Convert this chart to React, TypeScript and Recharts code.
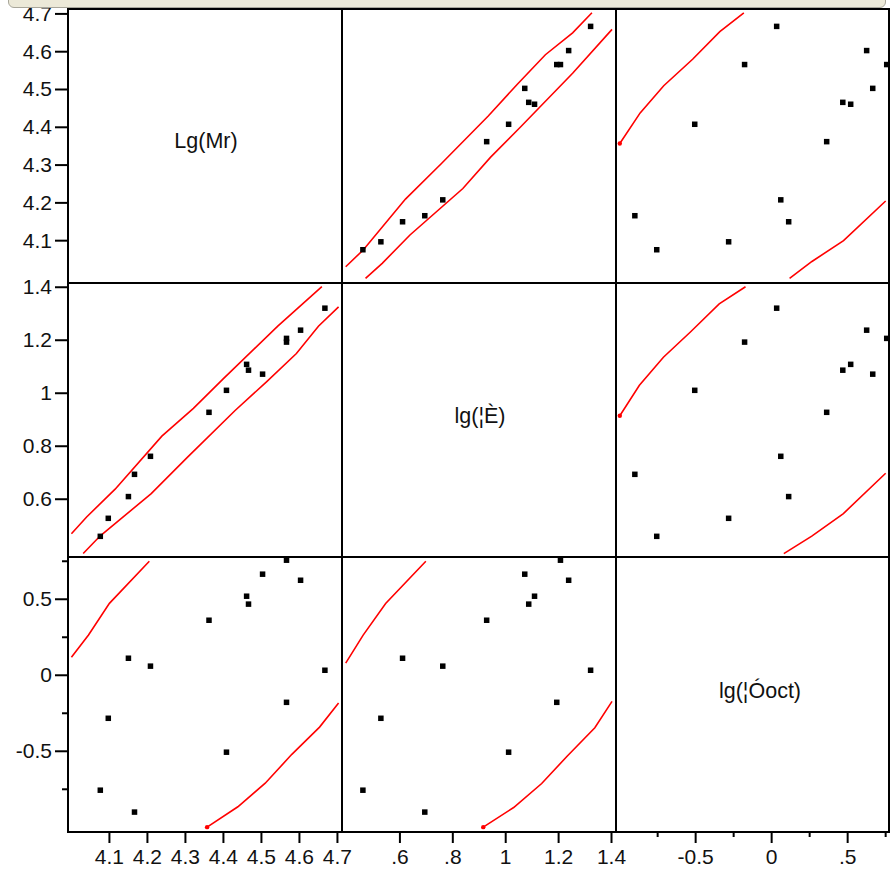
import { ScatterChart, Scatter, XAxis, YAxis } from 'recharts'

// 14 compounds, one value per variable
const LG_MR = [4.076, 4.097, 4.15, 4.166, 4.208, 4.362, 4.408, 4.461, 4.466, 4.503, 4.566, 4.566, 4.603, 4.667]
const LG_E = [0.46, 0.528, 0.61, 0.694, 0.762, 0.928, 1.011, 1.109, 1.087, 1.072, 1.207, 1.193, 1.238, 1.321]
const LG_OCT = [-0.756, -0.283, 0.112, -0.9, 0.06, 0.362, -0.506, 0.52, 0.468, 0.665, 0.757, -0.178, 0.625, 0.033]

const MR_TICKS = [4.1, 4.2, 4.3, 4.4, 4.5, 4.6, 4.7]
const MR_LABELS = ['4.1', '4.2', '4.3', '4.4', '4.5', '4.6', '4.7']
const E_TICKS = [0.6, 0.8, 1, 1.2, 1.4]
const E_X_LABELS = ['.6', '.8', '1', '1.2', '1.4']
const E_Y_LABELS = ['0.6', '0.8', '1', '1.2', '1.4']
const OCT_TICKS = [-0.75, -0.5, -0.25, 0, 0.25, 0.5, 0.75]
const OCT_X_LABELS = ['', '-0.5', '', '0', '', '.5', '']
const OCT_Y_LABELS = ['', '-0.5', '', '0', '', '0.5', '']

// visible pieces of the 95% density ellipses, as (first var, second var)
const MR_E_ARC1 = [[4.0, 0.47], [4.04, 0.533], [4.115, 0.638], [4.238, 0.838], [4.321, 0.943], [4.4, 1.055], [4.543, 1.253], [4.659, 1.402]]
const MR_E_ARC2 = [[4.031, 0.395], [4.076, 0.462], [4.21, 0.621], [4.305, 0.758], [4.43, 0.934], [4.514, 1.044], [4.592, 1.15], [4.65, 1.253], [4.703, 1.326]]
const MR_OCT_ARC1 = [[4.0, 0.118], [4.045, 0.265], [4.1, 0.473], [4.205, 0.75]]
const MR_OCT_ARC2 = [[4.357, -0.999], [4.438, -0.865], [4.51, -0.71], [4.58, -0.52], [4.653, -0.341], [4.703, -0.183]]
const E_OCT_ARC1 = [[0.395, 0.08], [0.461, 0.264], [0.546, 0.472], [0.698, 0.75]]
const E_OCT_ARC2 = [[0.915, -0.999], [1.03, -0.87], [1.136, -0.712], [1.233, -0.531], [1.337, -0.345], [1.402, -0.172]]

const VARS = [
  { name: 'Lg(Mr)', values: LG_MR, xDomain: [3.991, 4.712], yDomain: [3.988, 4.713], ticks: MR_TICKS, xLabels: MR_LABELS, yLabels: MR_LABELS },
  { name: 'lg(¦È)', values: LG_E, xDomain: [0.381, 1.417], yDomain: [0.382, 1.416], ticks: E_TICKS, xLabels: E_X_LABELS, yLabels: E_Y_LABELS },
  { name: 'lg(¦Óoct)', values: LG_OCT, xDomain: [-1.024, 0.772], yDomain: [-1.031, 0.778], ticks: OCT_TICKS, xLabels: OCT_X_LABELS, yLabels: OCT_Y_LABELS },
]

// arcs per variable pair; the flag marks arcs whose first vertex gets a dot
const ARCS: Record<string, [number[][], boolean][]> = {
  '0-1': [[MR_E_ARC1, false], [MR_E_ARC2, false]],
  '0-2': [[MR_OCT_ARC1, false], [MR_OCT_ARC2, true]],
  '1-2': [[E_OCT_ARC1, false], [E_OCT_ARC2, true]],
}

const COL_X = [68, 342, 616]
const COL_W = [274, 274, 273]
const ROW_Y = [9, 283, 557]
const ROW_H = [274, 274, 275]
const YAXIS_W = 68
const XAXIS_H = 40
const FONT = '"Liberation Sans", Arial, sans-serif'

function labelFor(ticks: number[], labels: string[], v: number) {
  const i = ticks.findIndex((t) => Math.abs(t - v) < 1e-9)
  return i < 0 ? '' : labels[i]
}

function XTick(props: any) {
  const { x, y, payload, ticks, labels } = props
  const label = labelFor(ticks, labels, payload.value)
  const major = label !== ''
  return (
    <g>
      <line x1={x} x2={x} y1={y} y2={y + (major ? 11 : 5)} stroke="#000" strokeWidth={2} />
      {major && (
        <text x={x} y={y + 32} textAnchor="middle" fontSize={21} fontFamily={FONT} fill="#111">{label}</text>
      )}
    </g>
  )
}

function YTick(props: any) {
  const { x, y, payload, ticks, labels } = props
  const label = labelFor(ticks, labels, payload.value)
  const major = label !== ''
  return (
    <g>
      <line x1={x - (major ? 13 : 6)} x2={x} y1={y} y2={y} stroke="#000" strokeWidth={2} />
      {major && (
        <text x={x - 16} y={y + 7} textAnchor="end" fontSize={21} fontFamily={FONT} fill="#111">{label}</text>
      )}
    </g>
  )
}

function Square(p: any) {
  return <rect x={p.cx - 2.75} y={p.cy - 2.75} width={5.5} height={5.5} fill="#000" />
}

function ArcDot(p: any) {
  if (!p.payload?.dot) return <g />
  return <circle cx={p.cx} cy={p.cy} r={2.2} fill="#f00" />
}

function arcsFor(xi: number, yi: number) {
  const key = `${Math.min(xi, yi)}-${Math.max(xi, yi)}`
  const flip = xi > yi
  return (ARCS[key] ?? []).map(([arc, dotted]) =>
    arc.map(([a, b], k) => ({ x: flip ? b : a, y: flip ? a : b, dot: dotted && k === 0 })),
  )
}

function Panel({ r, c }: { r: number; c: number }) {
  const xv = VARS[c]
  const yv = VARS[r]
  const showY = c === 0
  const showX = r === 2
  const left = COL_X[c] - (showY ? YAXIS_W : 0)
  const width = COL_W[c] + (showY ? YAXIS_W : 0)
  const height = ROW_H[r] + (showX ? XAXIS_H : 0)
  const diag = r === c
  const points = xv.values.map((v, i) => ({ x: v, y: yv.values[i] }))
  const arcs = diag ? [] : arcsFor(c, r)

  return (
    <div style={{ position: 'absolute', left, top: ROW_Y[r] }}>
      <ScatterChart width={width} height={height} margin={{ top: 0, right: 0, bottom: 0, left: 0 }}>
        <XAxis
          type="number"
          dataKey="x"
          domain={xv.xDomain}
          allowDataOverflow
          ticks={xv.ticks}
          interval={0}
          hide={!showX}
          height={XAXIS_H}
          tickSize={0}
          tickMargin={0}
          axisLine={false}
          tickLine={false}
          tick={(p: any) => <XTick {...p} ticks={xv.ticks} labels={xv.xLabels} />}
        />
        <YAxis
          type="number"
          dataKey="y"
          domain={yv.yDomain}
          allowDataOverflow
          ticks={yv.ticks}
          interval={0}
          hide={!showY}
          width={YAXIS_W}
          tickSize={0}
          tickMargin={0}
          axisLine={false}
          tickLine={false}
          tick={(p: any) => <YTick {...p} ticks={yv.ticks} labels={yv.yLabels} />}
        />
        {arcs.map((arc, i) => (
          <Scatter
            key={`arc${i}`}
            data={arc}
            line={{ stroke: '#ff0000', strokeWidth: 1.6 }}
            lineType="joint"
            shape={ArcDot}
            isAnimationActive={false}
          />
        ))}
        <Scatter data={diag ? [] : points} shape={Square} isAnimationActive={false} />
      </ScatterChart>
    </div>
  )
}

const LABEL_POS = [
  [206, 148],
  [480, 423],
  [760, 698],
]

export default function App() {
  const cells: JSX.Element[] = []
  for (let r = 0; r < 3; r++) {
    for (let c = 0; c < 3; c++) cells.push(<Panel key={`${r}-${c}`} r={r} c={c} />)
  }
  const xs = [68, 342, 616, 889]
  const ys = [9, 283, 557, 832]
  return (
    <div style={{ position: 'absolute', left: 0, top: 0, width: 890, height: 872, background: '#fff', overflow: 'hidden' }}>
      <style>{'svg { overflow: visible; }'}</style>
      {cells}
      <svg width={890} height={872} style={{ position: 'absolute', left: 0, top: 0, pointerEvents: 'none' }}>
        {xs.map((x) => (
          <line key={`v${x}`} x1={x} x2={x} y1={8} y2={833} stroke="#000" strokeWidth={2} />
        ))}
        {ys.map((y) => (
          <line key={`h${y}`} x1={67} x2={890} y1={y} y2={y} stroke="#000" strokeWidth={2} />
        ))}
        {VARS.map((v, i) => (
          <text key={v.name} x={LABEL_POS[i][0]} y={LABEL_POS[i][1]} textAnchor="middle" fontSize={21.5} fontFamily={FONT} fill="#111">
            {v.name}
          </text>
        ))}
      </svg>
      <div
        style={{
          position: 'absolute', left: 8, top: -3, width: 876, height: 9,
          background: '#ece9d8', border: '1px solid #a8a69a', borderRadius: '0 0 6px 6px',
        }}
      />
    </div>
  )
}
